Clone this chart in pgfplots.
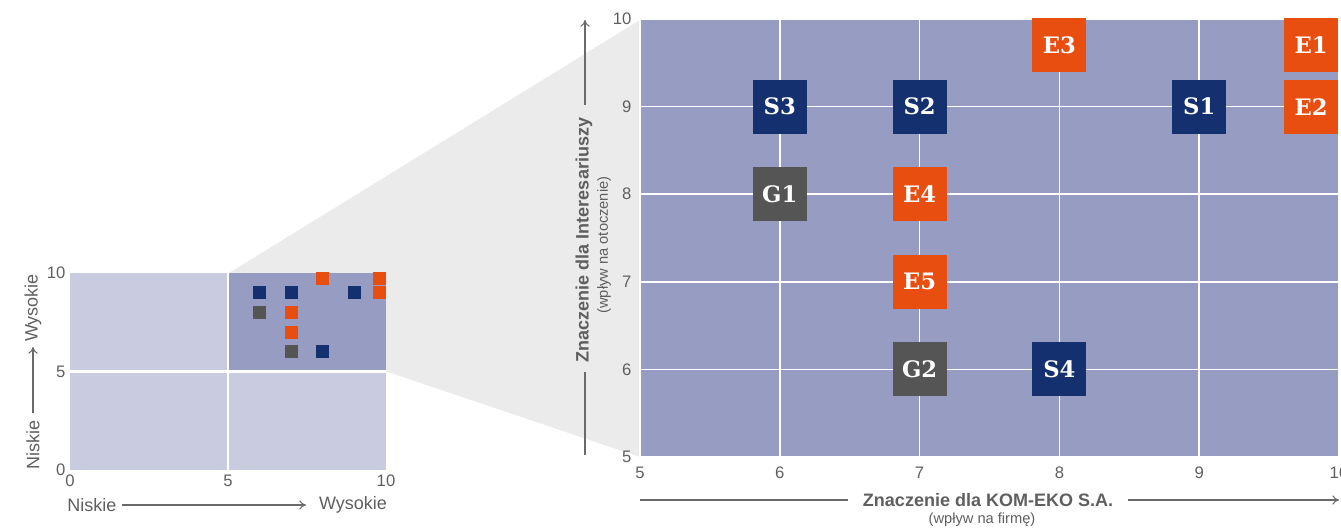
\documentclass[border=0pt]{standalone}
\usepackage{pgfplots}
\pgfplotsset{compat=1.18}
\usetikzlibrary{arrows.meta}
\usepackage{fontspec}
\setmainfont{Liberation Sans}
\newfontfamily\boxfont{DejaVu Serif}
\definecolor{navy}{HTML}{15306E}
\definecolor{orng}{HTML}{E84E0F}
\definecolor{dgray}{HTML}{555555}
\definecolor{axbg}{HTML}{979CC3}
\definecolor{axlight}{HTML}{C9CBE0}
\definecolor{trap}{HTML}{EBEBEB}
\definecolor{txt}{HTML}{5F5F5F}
\definecolor{arr}{HTML}{6A6A6A}

\pgfplotstableread{
x y label
9 9 S1
7 9 S2
6 9 S3
8 6 S4
}\navydata
\pgfplotstableread{
x y label
9.8 9.7 E1
9.8 9 E2
8 9.7 E3
7 8 E4
7 7 E5
}\orngdata
\pgfplotstableread{
x y label
6 8 G1
7 6 G2
}\graydata

\begin{document}
\begin{tikzpicture}
\useasboundingbox (0,0) rectangle (1005.75pt,396.75pt);
\begin{scope}[x=0.75pt,y=0.75pt]
\fill[trap] (229,256) -- (640,509) -- (640,72) -- (385,158) -- cycle;
\end{scope}

% small overview axis
\begin{axis}[at={(52.5pt,44.25pt)}, anchor=south west, scale only axis,
  width=237pt, height=147.75pt,
  xmin=0, xmax=10, ymin=0, ymax=10,
  xtick={0,5,10}, ytick={0,5,10},
  axis line style={draw=none}, tick style={draw=none},
  axis background/.style={fill=axlight},
  /pgf/number format/assume math mode=true,
  tick label style={font=\fontsize{12.5}{12.5}\selectfont, text=txt},
  clip=false]
\fill[axbg] (axis cs:5,5) rectangle (axis cs:10,10);
\draw[white, line width=1.6pt] (axis cs:5,0) -- (axis cs:5,10);
\draw[white, line width=1.6pt] (axis cs:0,5) -- (axis cs:10,5);
\addplot[only marks, mark=square*, mark size=4.5pt, color=navy, mark options={draw=navy, fill=navy, line width=0pt}] table[x=x,y=y] {\navydata};
\addplot[only marks, mark=square*, mark size=4.5pt, color=orng, mark options={draw=orng, fill=orng, line width=0pt}] table[x=x,y=y] {\orngdata};
\addplot[only marks, mark=square*, mark size=4.5pt, color=dgray, mark options={draw=dgray, fill=dgray, line width=0pt}] table[x=x,y=y] {\graydata};
\end{axis}

% big zoomed axis
\begin{axis}[at={(480pt,54pt)}, anchor=south west, scale only axis,
  width=524.25pt, height=328.5pt,
  xmin=5, xmax=10, ymin=5, ymax=10,
  xtick={5,6,...,10}, ytick={5,6,...,10},
  grid=major, major grid style={white, line width=1.1pt},
  axis line style={draw=none}, tick style={draw=none},
  axis background/.style={fill=axbg},
  /pgf/number format/assume math mode=true,
  tick label style={font=\fontsize{12.5}{12.5}\selectfont, text=txt},
  xticklabel style={yshift=-4pt},
  yticklabel style={xshift=-3pt},
  clip=false,
  every node near coord/.append style={anchor=center, text=white, minimum width=40.5pt, minimum height=40.5pt, inner sep=0pt, font=\boxfont\bfseries\fontsize{17}{17}\selectfont}]
\addplot[draw=none, mark=none, nodes near coords, point meta=explicit symbolic,
  every node near coord/.append style={fill=navy}] table[x=x,y=y,meta=label] {\navydata};
\addplot[draw=none, mark=none, nodes near coords, point meta=explicit symbolic,
  every node near coord/.append style={fill=orng}] table[x=x,y=y,meta=label] {\orngdata};
\addplot[draw=none, mark=none, nodes near coords, point meta=explicit symbolic,
  every node near coord/.append style={fill=dgray}] table[x=x,y=y,meta=label] {\graydata};
\end{axis}

\begin{scope}[x=0.75pt,y=0.75pt]
% big x label
\draw[arr, line width=0.8pt] (640,29) -- (848,29);
\draw[arr, line width=0.8pt, -{To[length=5pt,width=7pt]}] (1128,29) -- (1339,29);
\node[text=txt, font=\bfseries\fontsize{13.5}{13.5}\selectfont] at (988,29) {Znaczenie dla KOM-EKO S.A.};
\node[text=txt, font=\fontsize{11}{11}\selectfont] at (982,9) {(wpływ na firmę)};
% big y label
\draw[arr, line width=0.8pt] (585,74) -- (585,157);
\draw[arr, line width=0.8pt, -{To[length=5pt,width=7pt]}] (585,424) -- (585,509);
\node[text=txt, rotate=90, font=\bfseries\fontsize{13.5}{13.5}\selectfont] at (584,289) {Znaczenie dla Interesariuszy};
\node[text=txt, rotate=90, font=\fontsize{11}{11}\selectfont] at (604,284) {(wpływ na otoczenie)};
% small x label
\node[text=txt, font=\fontsize{13.5}{13.5}\selectfont] at (92,24) {Niskie};
\draw[arr, line width=0.8pt, -{To[length=5pt,width=7pt]}] (122,24) -- (306,24);
\node[text=txt, font=\fontsize{13.5}{13.5}\selectfont] at (353,24) {Wysokie};
% small y label
\node[text=txt, rotate=90, font=\fontsize{13.5}{13.5}\selectfont] at (33,84) {Niskie};
\draw[arr, line width=0.8pt, -{To[length=5pt,width=7pt]}] (33,116) -- (33,182);
\node[text=txt, rotate=90, font=\fontsize{13.5}{13.5}\selectfont] at (33,221) {Wysokie};
\end{scope}
\end{tikzpicture}
\end{document}
